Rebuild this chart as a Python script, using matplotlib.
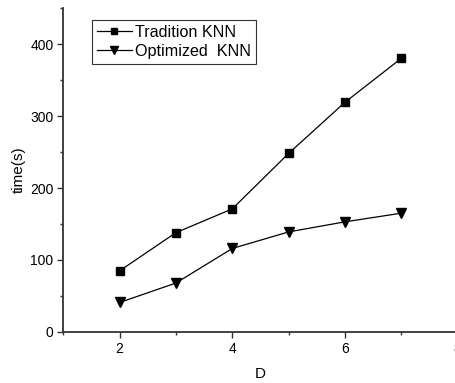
import matplotlib
matplotlib.use("Agg")
import matplotlib.pyplot as plt
from matplotlib.ticker import MultipleLocator

plt.rcParams['font.family'] = ['Liberation Sans', 'DejaVu Sans']

d_values = [2, 3, 4, 5, 6, 7]
tradition_knn = [85, 138, 171, 248, 319, 380]
optimized_knn = [41, 68, 116, 139, 153, 165]

fig = plt.figure(figsize=(4.56, 3.83), dpi=100)
ax = fig.add_axes([0.1389, 0.1332, 0.8644, 0.8458])

ax.plot(d_values, tradition_knn, color='black', lw=0.9, marker='s', ms=5.5,
        label='Tradition KNN')
ax.plot(d_values, optimized_knn, color='black', lw=0.9, marker='v', ms=7.5,
        label='Optimized  KNN')

ax.set_xlim(1, 8)
ax.set_ylim(0, 450)
ax.xaxis.set_major_locator(MultipleLocator(2))
ax.xaxis.set_minor_locator(MultipleLocator(1))
ax.yaxis.set_major_locator(MultipleLocator(100))
ax.yaxis.set_minor_locator(MultipleLocator(50))

for side in ['top', 'right']:
    ax.spines[side].set_visible(False)
for side in ['left', 'bottom']:
    ax.spines[side].set_linewidth(1.3)
    ax.spines[side].set_color('#333333')

ax.tick_params(which='major', direction='out', length=4, width=1, labelsize=10,
               colors='#333333', labelcolor='black', pad=3)
ax.tick_params(which='minor', direction='out', length=2.5, width=1, colors='#333333')

ax.set_xlabel('D', fontsize=11, labelpad=8)
ax.set_ylabel('time(s)', fontsize=11, labelpad=3)

leg = ax.legend(loc='upper left', bbox_to_anchor=(0.073, 0.963), fontsize=11.6,
                frameon=True, fancybox=False, edgecolor='black', handlelength=2.2,
                handletextpad=0.2, borderpad=0.28, labelspacing=0.28, borderaxespad=0,
                markerscale=0.8)
leg.get_frame().set_linewidth(0.8)

fig.savefig('out.png', dpi=100)
